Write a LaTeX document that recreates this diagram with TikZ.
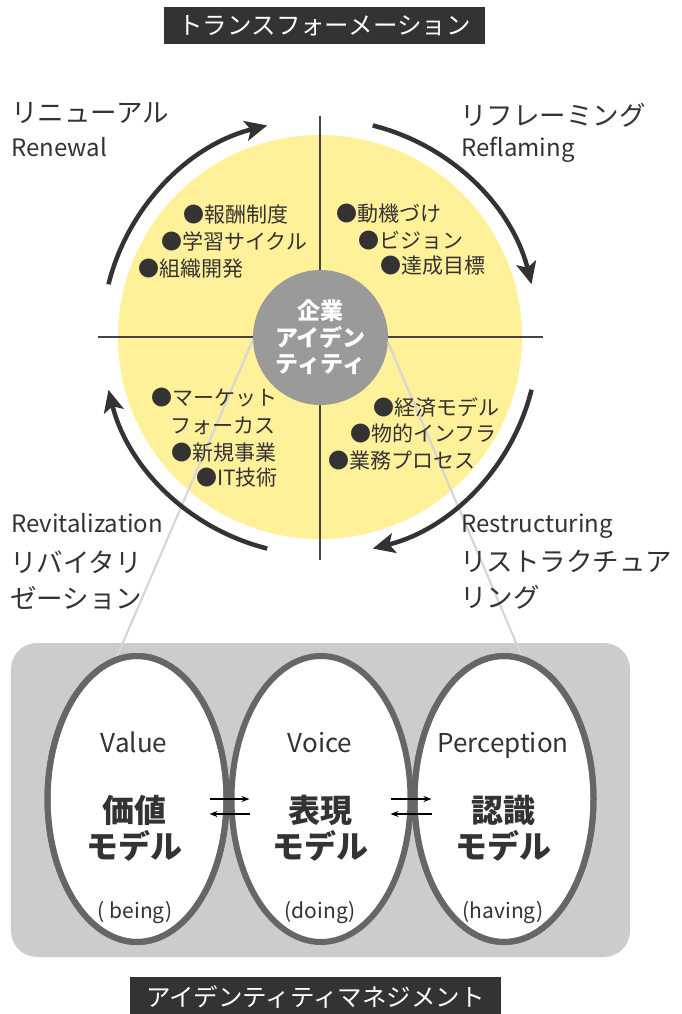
\documentclass[tikz,border=0pt]{standalone}
\usepackage{fontspec}
\setmainfont{Noto Sans CJK JP}
\usetikzlibrary{arrows.meta,shapes.geometric}
\definecolor{ink}{HTML}{333333}
\definecolor{yel}{HTML}{FFF09A}
\definecolor{cgray}{HTML}{9A9A9A}
\definecolor{panelgray}{HTML}{CCCCCC}
\definecolor{edgegray}{HTML}{666666}
\definecolor{faint}{HTML}{D6D6D6}
\definecolor{qline}{HTML}{444444}
\begin{document}
\begin{tikzpicture}[x=1pt,y=-1pt,
  titlebox/.style={fill=ink, text=white, inner sep=0pt, font=\fontsize{24.5}{28}\selectfont},
  jplab/.style={anchor=base west, inner sep=0pt, text=ink, font=\fontsize{26.5}{36}\selectfont},
  jplabtwo/.style={anchor=west, align=left, inner sep=0pt, text=ink, font=\fontsize{26.5}{36}\selectfont},
  enlab/.style={anchor=base west, inner sep=0pt, text=ink, font=\fontsize{24}{28}\selectfont},
  bul/.style={anchor=base west, inner sep=0pt, text=ink, font=\fontsize{21}{28}\selectfont},
  bultwo/.style={anchor=west, align=left, inner sep=0pt, text=ink, font=\fontsize{21}{28}\selectfont},
  core/.style={circle, fill=cgray, text=white, minimum size=135pt, inner sep=0pt, align=center, font=\bfseries\fontsize{23}{26.5}\selectfont},
  bigarc/.style={draw=ink, line width=4.5pt, -{Stealth[length=22pt,width=20pt,inset=5pt]}},
  quad/.style={draw=qline, line width=1.3pt},
  faintline/.style={draw=faint, line width=2.2pt},
  ell/.style={ellipse, draw=edgegray, line width=6pt, fill=white, minimum width=179pt, minimum height=286pt, inner sep=0pt},
  entit/.style={anchor=base, inner sep=0pt, text=ink, font=\fontsize{26}{30}\selectfont},
  model/.style={align=center, inner sep=0pt, text=ink, font=\bfseries\fontsize{32}{36}\selectfont},
  ing/.style={anchor=base, inner sep=0pt, text=ink, font=\fontsize{21}{24}\selectfont},
  smallarrow/.style={draw=black, line width=1.3pt, -{Stealth[length=8pt,width=6pt]}}
]
\useasboundingbox (0,0) rectangle (681,1014);

% titles
\node[titlebox, minimum width=321pt, minimum height=37pt] (ttop) at (324.5,25.5) {トランスフォーメーション};

% yellow disc and quadrant lines
\coordinate (c) at (320,337);
\fill[yel] (c) circle[radius=202];
\coordinate (vt) at (320,116);
\coordinate (vb) at (320,560);
\coordinate (hl) at (98,337);
\coordinate (hr) at (543,337);
\draw[quad] (vt) -- (vb);
\draw[quad] (hl) -- (hr);

% bottom panel and ellipses
\node[fill=panelgray, rounded corners=26pt, minimum width=619pt, minimum height=314pt, inner sep=0pt] (panel) at (320.5,800) {};
\node[ell] (ev) at (137,799) {};
\node[ell] (vo) at (321,799) {};
\node[ell] (pe) at (504,799) {};

% center circle
\node[core] (cc) at (320.5,337.5) {企業\\アイデン\\ティティ};

% faint connecting lines
\draw[faintline] (cc.182) -- (ev.98);
\draw[faintline] (cc.356) -- (pe.83);
% redraw ellipse outlines over line ends
\node[ell, fill=none] at (ev) {};
\node[ell, fill=none] at (pe) {};

% bullets
\node[bul] (b1) at (183,222) {●報酬制度};
\node[bul] (b2) at (161,249) {●学習サイクル};
\node[bul] (b3) at (138,276) {●組織開発};
\node[bul] (b4) at (336,221) {●動機づけ};
\node[bul] (b5) at (358,248) {●ビジョン};
\node[bul] (b6) at (380,273) {●達成目標};
\node[bultwo] (b7) at (151,411) {●マーケット\\\hspace*{0.9em}フォーカス};
\node[bul] (b8) at (171,460) {●新規事業};
\node[bul] (b9) at (196,485) {●IT技術};
\node[bul] (b10) at (373,415) {●経済モデル};
\node[bul] (b11) at (350,441) {●物的インフラ};
\node[bul] (b12) at (328,468) {●業務プロセス};

% cycle arrows
\draw[bigarc] (c) ++(-166:218) arc[start angle=-166, end angle=-104, radius=218];
\draw[bigarc] (c) ++(-76:218) arc[start angle=-76, end angle=-14, radius=218];
\draw[bigarc] (c) ++(14:218) arc[start angle=14, end angle=76, radius=218];
\draw[bigarc] (c) ++(-256:218) arc[start angle=-256, end angle=-194, radius=218];

% phase labels
\node[jplab] (l1) at (11,122.5) {リニューアル};
\node[enlab] (l1e) at (11,156) {Renewal};
\node[jplab] (l2) at (460,125) {リフレーミング};
\node[enlab] (l2e) at (461,156) {Reflaming};
\node[enlab] (l3e) at (11,532) {Revitalization};
\node[jplabtwo] (l3) at (10,580) {リバイタリ\\ゼーション};
\node[enlab] (l4e) at (461,532) {Restructuring};
\node[jplabtwo] (l4) at (460,580) {リストラクチュア\\リング};

% ellipse contents
\node[entit] (t1) at (134,752) {Value};
\node[model] (m1) at (134,828) {価値\\モデル};
\node[ing] (g1) at (135,918) {( being)};
\node[entit] (t2) at (320,752) {Voice};
\node[model] (m2) at (320,828) {表現\\モデル};
\node[ing] (g2) at (320,918) {(doing)};
\node[entit] (t3) at (503,752) {Perception};
\node[model] (m3) at (503,828) {認識\\モデル};
\node[ing] (g3) at (503,918) {(having)};

% exchange arrows
\draw[smallarrow] ([xshift=-20pt]ev.east) -- ([xshift=21pt]vo.west);
\draw[smallarrow] ([xshift=21pt,yshift=-15pt]vo.west) -- ([xshift=-20pt,yshift=-15pt]ev.east);
\draw[smallarrow] ([xshift=-23pt]vo.east) -- ([xshift=20pt]pe.west);
\draw[smallarrow] ([xshift=20pt,yshift=-15pt]pe.west) -- ([xshift=-23pt,yshift=-15pt]vo.east);

% bottom title
\node[titlebox, minimum width=371pt, minimum height=40pt] (tbot) at (315.5,997) {アイデンティティマネジメント};
\end{tikzpicture}
\end{document}
